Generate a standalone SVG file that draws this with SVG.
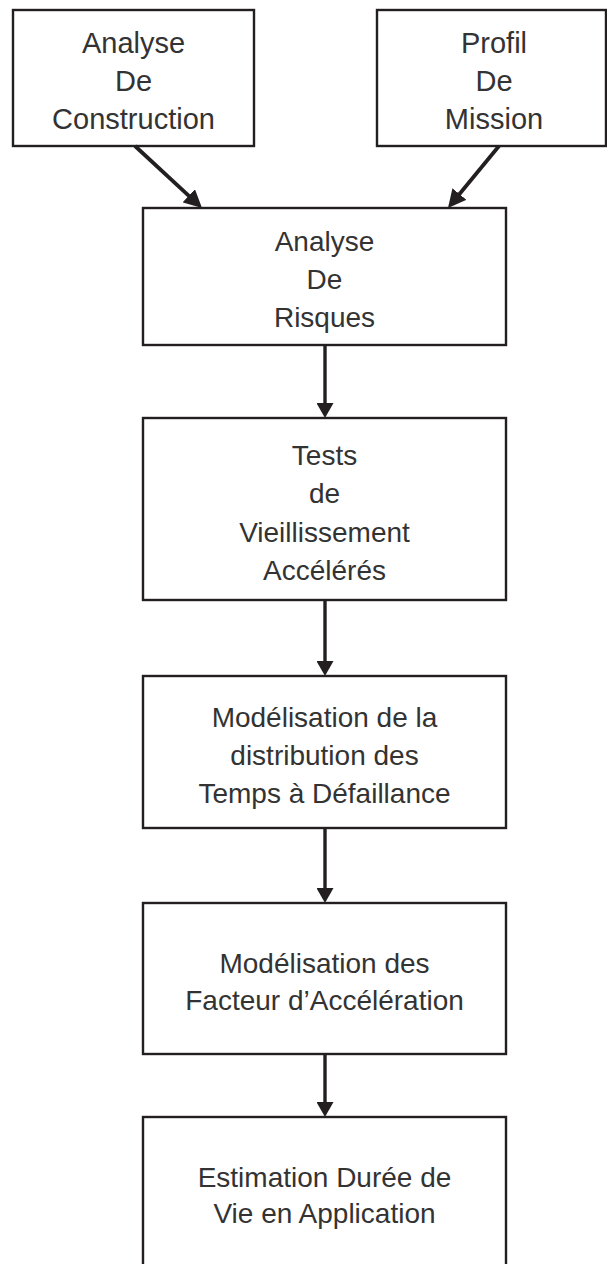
<svg xmlns="http://www.w3.org/2000/svg" width="607" height="1264" viewBox="0 0 607 1264">
  <style>
    .box { fill: #ffffff; stroke: #231f20; stroke-width: 2.4; }
    .lbl { font-family: "Liberation Sans", Arial, sans-serif; font-size: 28px; fill: #333333; text-anchor: middle; }
    .top { font-size: 29px; }
    .conn { stroke: #231f20; stroke-width: 3.4; fill: none; }
    .diag { stroke-width: 3.8; }
  </style>
  <defs>
    <marker id="ah" viewBox="0 0 15 17" refX="5" refY="8.5" markerWidth="15" markerHeight="17" markerUnits="userSpaceOnUse" orient="auto">
      <path d="M0,0 L15,8.5 L0,17 Z" fill="#231f20"/>
    </marker>
    <marker id="ahd" viewBox="0 0 18 18" refX="6" refY="9" markerWidth="18" markerHeight="18" markerUnits="userSpaceOnUse" orient="auto">
      <path d="M0,0 L18,9 L0,18 Z" fill="#231f20"/>
    </marker>
  </defs>
  <rect width="607" height="1264" fill="#ffffff"/>

  <g id="construction">
    <rect class="box" x="13" y="10" width="241" height="136"/>
    <text class="lbl top" x="133.5" y="53">Analyse</text>
    <text class="lbl top" x="133.5" y="91">De</text>
    <text class="lbl top" x="133.5" y="129">Construction</text>
  </g>

  <g id="mission">
    <rect class="box" x="377" y="10" width="229" height="136"/>
    <text class="lbl top" x="494" y="53">Profil</text>
    <text class="lbl top" x="494" y="91">De</text>
    <text class="lbl top" x="494" y="129">Mission</text>
  </g>

  <g id="risques">
    <rect class="box" x="143" y="208" width="363" height="137"/>
    <text class="lbl" x="324.5" y="251">Analyse</text>
    <text class="lbl" x="324.5" y="289">De</text>
    <text class="lbl" x="324.5" y="327">Risques</text>
  </g>

  <g id="tests">
    <rect class="box" x="143" y="418" width="363" height="182"/>
    <text class="lbl" x="324.5" y="465">Tests</text>
    <text class="lbl" x="324.5" y="503">de</text>
    <text class="lbl" x="324.5" y="542">Vieillissement</text>
    <text class="lbl" x="324.5" y="580">Accélérés</text>
  </g>

  <g id="distribution">
    <rect class="box" x="143" y="676" width="363" height="152"/>
    <text class="lbl" x="324.5" y="727">Modélisation de la</text>
    <text class="lbl" x="324.5" y="765">distribution des</text>
    <text class="lbl" x="324.5" y="803">Temps à Défaillance</text>
  </g>

  <g id="facteur">
    <rect class="box" x="143" y="903" width="363" height="151"/>
    <text class="lbl" x="324.5" y="973">Modélisation des</text>
    <text class="lbl" x="324.5" y="1010">Facteur d’Accélération</text>
  </g>

  <g id="estimation">
    <rect class="box" x="143" y="1117" width="363" height="160"/>
    <text class="lbl" x="324.5" y="1187">Estimation Durée de</text>
    <text class="lbl" x="324.5" y="1223">Vie en Application</text>
  </g>

  <g id="connectors">
    <line class="conn diag" x1="135" y1="146" x2="193.2" y2="199.8" marker-end="url(#ahd)"/>
    <line class="conn diag" x1="499" y1="146" x2="455.6" y2="198.7" marker-end="url(#ahd)"/>
    <line class="conn" x1="325" y1="345" x2="325" y2="408" marker-end="url(#ah)"/>
    <line class="conn" x1="325" y1="600" x2="325" y2="666" marker-end="url(#ah)"/>
    <line class="conn" x1="325" y1="828" x2="325" y2="893" marker-end="url(#ah)"/>
    <line class="conn" x1="325" y1="1054" x2="325" y2="1107" marker-end="url(#ah)"/>
  </g>
</svg>
